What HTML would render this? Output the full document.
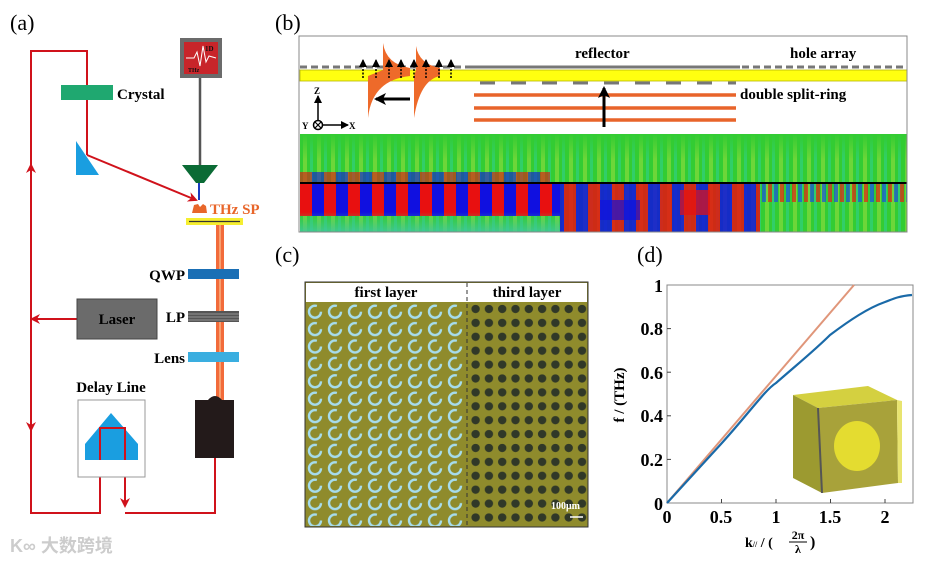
<!DOCTYPE html>
<html><head><meta charset="utf-8"><style>
html,body{margin:0;padding:0;background:#fff;}
svg{display:block;font-family:"Liberation Serif",serif;}
.b{font-weight:bold;}
</style></head><body>
<svg width="945" height="563" viewBox="0 0 945 563" xmlns="http://www.w3.org/2000/svg">
<defs>
<marker id="ar" markerWidth="10" markerHeight="10" refX="8" refY="5" orient="auto" markerUnits="userSpaceOnUse"><path d="M0,0 L10,5 L0,10 L3,5 Z" fill="#d0121b"/></marker>
<marker id="ak" markerWidth="12" markerHeight="12" refX="10" refY="6" orient="auto" markerUnits="userSpaceOnUse"><path d="M0,0 L12,6 L0,12 L3,6 Z" fill="#000"/></marker>
<marker id="ak2" markerWidth="8" markerHeight="8" refX="7" refY="4" orient="auto" markerUnits="userSpaceOnUse"><path d="M0,0 L8,4 L0,8 Z" fill="#000"/></marker>
<pattern id="rings" x="305" y="303" width="20" height="17.4" patternUnits="userSpaceOnUse">
<circle cx="10" cy="8.7" r="6" fill="none" stroke="#a6dcec" stroke-width="2.4" stroke-dasharray="30 8"/>
</pattern>
<pattern id="dots" x="469" y="302" width="13.3" height="13.9" patternUnits="userSpaceOnUse">
<circle cx="6.6" cy="7" r="4.2" fill="#303828"/>
</pattern>
<pattern id="rb" x="300" y="0" width="24" height="10" patternUnits="userSpaceOnUse">
<rect x="0" y="0" width="12" height="10" fill="#e81010"/><rect x="12" y="0" width="12" height="10" fill="#1010e0"/>
</pattern>
<pattern id="rb2" x="300" y="0" width="12" height="10" patternUnits="userSpaceOnUse">
<rect x="0" y="0" width="4" height="10" fill="#e82010"/><rect x="6" y="0" width="4" height="10" fill="#1850e0"/>
</pattern>
<pattern id="gs" x="300" y="0" width="14" height="10" patternUnits="userSpaceOnUse">
<rect width="14" height="10" fill="#33cc33"/><rect x="3" width="4" height="10" fill="#a8e040" opacity="0.5"/><rect x="10" width="3" height="10" fill="#30d0a0" opacity="0.5"/>
</pattern>
<linearGradient id="fadeD" x1="0" y1="0" x2="0" y2="1"><stop offset="0" stop-color="#40c880" stop-opacity="0"/><stop offset="1" stop-color="#40c8a0" stop-opacity="0.85"/></linearGradient>
<linearGradient id="fadeU" x1="0" y1="0" x2="0" y2="1"><stop offset="0" stop-color="#33cc33" stop-opacity="1"/><stop offset="1" stop-color="#33cc33" stop-opacity="0"/></linearGradient>
</defs>

<text x="10" y="30" font-size="22">(a)</text>
<text x="275" y="30" font-size="22">(b)</text>
<text x="275" y="262" font-size="22">(c)</text>
<text x="637" y="262" font-size="22">(d)</text>

<g stroke="#d0121b" stroke-width="2" fill="none">
<polyline points="87,155 87,51 31,51 31,513 100,513 100,428 125,428 125,505"/>
<line x1="31" y1="180" x2="31" y2="165" marker-end="url(#ar)"/>
<line x1="31" y1="415" x2="31" y2="430" marker-end="url(#ar)"/>
<line x1="100" y1="460" x2="100" y2="446" marker-end="url(#ar)"/>
<line x1="125" y1="490" x2="125" y2="506" marker-end="url(#ar)"/>
<line x1="77" y1="319" x2="32" y2="319" marker-end="url(#ar)"/>
<line x1="87" y1="155" x2="196" y2="200" marker-end="url(#ar)"/>
<polyline points="215,458 215,513 125,513"/>
</g>
<rect x="61" y="85" width="52" height="15" fill="#1fa870"/>
<text x="117" y="99" font-size="15" class="b">Crystal</text>
<polygon points="76,141 76,175 99,175" fill="#1a9ee0"/>
<rect x="180" y="38" width="42" height="40" fill="#6b6b6b"/>
<rect x="184" y="42" width="34" height="32" fill="#c8252a"/>
<polyline points="186,58 194,58 197,52 200,66 203,46 206,62 209,56 216,58" fill="none" stroke="#fff" stroke-width="1"/>
<text x="205" y="51" font-size="7" fill="#111" class="b">1D</text>
<text x="188" y="72" font-size="6" fill="#111" class="b">THz</text>
<line x1="200" y1="78" x2="200" y2="166" stroke="#555" stroke-width="2.5"/>
<polygon points="182,165 218,165 204,183 196,183" fill="#0b6b35"/>
<line x1="199" y1="183" x2="199" y2="200" stroke="#1a3cc0" stroke-width="2"/>
<path d="M192,213 L194,205 L198,204 L200,207 L203,204 L206,206 L207,213 Z" fill="#e8662a"/>
<text x="210" y="214" font-size="15" class="b" fill="#e8662a">THz SP</text>
<rect x="216" y="225" width="8" height="175" fill="#f26b3a"/>
<rect x="219" y="225" width="2" height="175" fill="#f7a070"/>
<rect x="186" y="218" width="57" height="7" fill="#f5ee30"/>
<line x1="189" y1="221.5" x2="240" y2="221.5" stroke="#333" stroke-width="1.2"/>
<rect x="188" y="269" width="51" height="10" fill="#1a6fb5"/>
<text x="185" y="280" font-size="15" class="b" text-anchor="end">QWP</text>
<rect x="188" y="311" width="51" height="11" fill="#555"/>
<g stroke="#aaa" stroke-width="0.8"><line x1="188" y1="314" x2="239" y2="314"/><line x1="188" y1="317" x2="239" y2="317"/><line x1="188" y1="320" x2="239" y2="320"/></g>
<text x="185" y="322" font-size="15" class="b" text-anchor="end">LP</text>
<rect x="188" y="352" width="51" height="10" fill="#3aaee0"/>
<text x="185" y="363" font-size="15" class="b" text-anchor="end">Lens</text>
<rect x="77" y="299" width="80" height="40" fill="#6b6b6b" stroke="#444"/>
<text x="117" y="324" font-size="15" class="b" text-anchor="middle">Laser</text>
<text x="111" y="392" font-size="15" class="b" text-anchor="middle">Delay Line</text>
<rect x="78" y="400" width="67" height="77" fill="#fff" stroke="#999"/>
<polygon points="85,460 85,444 111,413 138,444 138,460" fill="#1a9ee0"/>
<g stroke="#d0121b" stroke-width="2" fill="none"><polyline points="100,460 100,428 125,428 125,460"/></g>
<path d="M195,400 L208,400 Q215,392 222,400 L234,400 L234,458 L195,458 Z" fill="#231a1a"/>
<text x="10" y="552" font-size="18" fill="#ccc" class="b" font-family="Liberation Sans, Noto Sans CJK SC, sans-serif">K∞ 大数跨境</text>

<rect x="299" y="36" width="608" height="196" fill="#fff" stroke="#888"/>
<line x1="300" y1="67" x2="470" y2="67" stroke="#777" stroke-width="3" stroke-dasharray="7 4"/>
<line x1="470" y1="67" x2="740" y2="67" stroke="#777" stroke-width="3"/>
<line x1="742" y1="67" x2="907" y2="67" stroke="#777" stroke-width="3" stroke-dasharray="7 4"/>
<rect x="300" y="70" width="607" height="11" fill="#ffff10" stroke="#b8b800" stroke-width="0.8"/>
<line x1="480" y1="83" x2="736" y2="83" stroke="#777" stroke-width="3" stroke-dasharray="15 16"/>
<g stroke="#e8642a" stroke-width="3.5"><line x1="474" y1="95" x2="736" y2="95"/><line x1="474" y1="108" x2="736" y2="108"/><line x1="474" y1="120" x2="736" y2="120"/></g>
<line x1="604" y1="127" x2="604" y2="88" stroke="#000" stroke-width="3" marker-end="url(#ak)"/>
<text x="575" y="58" font-size="15" class="b">reflector</text>
<text x="790" y="58" font-size="15" class="b">hole array</text>
<text x="740" y="99" font-size="15" class="b">double split-ring</text>
<path d="M383,43 Q386,64 410,68 L410,76 Q372,80 368,118 L368,76 L383,70 Z" fill="#ee6a2a"/>
<path d="M416,46 Q419,64 440,68 L440,76 Q420,80 414,118 L414,76 L416,70 Z" fill="#ee6a2a"/>
<line x1="410" y1="99" x2="376" y2="99" stroke="#000" stroke-width="3" marker-end="url(#ak)"/>
<g stroke="#000" stroke-width="1.5" stroke-dasharray="2 1.5">
<line x1="363" y1="78" x2="363" y2="60" marker-end="url(#ak2)"/><line x1="376" y1="78" x2="376" y2="60" marker-end="url(#ak2)"/><line x1="389" y1="78" x2="389" y2="60" marker-end="url(#ak2)"/><line x1="401" y1="78" x2="401" y2="60" marker-end="url(#ak2)"/><line x1="414" y1="78" x2="414" y2="60" marker-end="url(#ak2)"/><line x1="426" y1="78" x2="426" y2="60" marker-end="url(#ak2)"/><line x1="439" y1="78" x2="439" y2="60" marker-end="url(#ak2)"/><line x1="451" y1="78" x2="451" y2="60" marker-end="url(#ak2)"/>
</g>
<line x1="318" y1="121" x2="318" y2="96" stroke="#000" stroke-width="1.5" marker-end="url(#ak2)"/>
<line x1="323" y1="125" x2="348" y2="125" stroke="#000" stroke-width="1.5" marker-end="url(#ak2)"/>
<circle cx="318" cy="125" r="4.5" fill="#fff" stroke="#000" stroke-width="1.5"/>
<path d="M315,122 L321,128 M321,122 L315,128" stroke="#000" stroke-width="1.2"/>
<text x="314" y="94" font-size="9" class="b">Z</text>
<text x="302" y="129" font-size="9" class="b">Y</text>
<text x="349" y="129" font-size="9" class="b">X</text>

<rect x="300" y="134" width="607" height="49" fill="url(#gs)"/>
<rect x="300" y="134" width="607" height="26" fill="url(#fadeU)"/>
<rect x="300" y="172" width="250" height="11" fill="url(#rb)" opacity="0.6"/>
<rect x="300" y="184" width="607" height="48" fill="url(#gs)"/>
<rect x="300" y="184" width="260" height="32" fill="url(#rb)"/>
<rect x="560" y="184" width="200" height="48" fill="url(#rb)" opacity="0.85"/>
<rect x="600" y="200" width="40" height="20" fill="#1010e0" opacity="0.7"/>
<rect x="680" y="190" width="30" height="25" fill="#e81010" opacity="0.7"/>
<rect x="760" y="184" width="147" height="18" fill="url(#rb2)" opacity="0.7"/>
<rect x="300" y="212" width="260" height="20" fill="url(#fadeD)"/>
<line x1="300" y1="183" x2="907" y2="183" stroke="#000" stroke-width="2"/>
<rect x="299" y="36" width="608" height="196" fill="none" stroke="#888"/>

<rect x="305" y="282" width="283" height="245" fill="#8f8b2c" stroke="#333"/>
<rect x="306" y="283" width="281" height="19" fill="#fff"/>
<rect x="306" y="302" width="161" height="224" fill="url(#rings)"/>
<rect x="467" y="302" width="120" height="224" fill="url(#dots)"/>
<line x1="467" y1="283" x2="467" y2="526" stroke="#333" stroke-dasharray="4 3"/>
<text x="386" y="297" font-size="15" class="b" text-anchor="middle">first layer</text>
<text x="527" y="297" font-size="15" class="b" text-anchor="middle">third layer</text>
<text x="551" y="509" font-size="10" class="b" fill="#fff">100μm</text>
<line x1="570" y1="517" x2="583" y2="517" stroke="#fff" stroke-width="1.5"/>
<rect x="305" y="282" width="283" height="245" fill="none" stroke="#333"/>

<rect x="667" y="285" width="246" height="218" fill="#fff" stroke="#888"/>
<g stroke="#444"><line x1="721.5" y1="503" x2="721.5" y2="499"/><line x1="776" y1="503" x2="776" y2="499"/><line x1="830.5" y1="503" x2="830.5" y2="499"/><line x1="885" y1="503" x2="885" y2="499"/>
<line x1="667" y1="459.4" x2="671" y2="459.4"/><line x1="667" y1="415.8" x2="671" y2="415.8"/><line x1="667" y1="372.2" x2="671" y2="372.2"/><line x1="667" y1="328.6" x2="671" y2="328.6"/></g>
<g font-size="18" class="b" text-anchor="end">
<text x="663" y="510">0</text><text x="663" y="466">0.2</text><text x="663" y="422">0.4</text><text x="663" y="379">0.6</text><text x="663" y="335">0.8</text><text x="663" y="292">1</text></g>
<g font-size="18" class="b" text-anchor="middle">
<text x="667" y="523">0</text><text x="721" y="523">0.5</text><text x="776" y="523">1</text><text x="830" y="523">1.5</text><text x="885" y="523">2</text></g>
<text transform="translate(624,395) rotate(-90)" font-size="15" class="b" text-anchor="middle">f / (THz)</text>
<text x="745" y="547" font-size="14" class="b">k<tspan font-size="8">//</tspan> / (</text>
<text x="798" y="539" font-size="12" class="b" text-anchor="middle">2π</text>
<line x1="789" y1="542" x2="807" y2="542" stroke="#000"/>
<text x="798" y="553" font-size="12" class="b" text-anchor="middle">λ</text>
<text x="810" y="547" font-size="16" class="b">)</text>
<polygon points="793,395 868,386 897,400 818,408" fill="#d4d040"/>
<polygon points="793,395 818,408 822,493 793,478" fill="#9c9a30"/>
<polygon points="818,408 897,400 898,483 822,493" fill="#a8a23a"/>
<polygon points="897,400 902,401 902,483 898,483" fill="#e8e470"/>
<line x1="818" y1="408" x2="822" y2="493" stroke="#555" stroke-width="2"/>
<ellipse cx="857" cy="446" rx="23" ry="25" fill="#e4dc30"/>
<line x1="667" y1="503" x2="854" y2="285" stroke="#e0967a" stroke-width="2"/>
<path d="M667,503 L721,444 C750,412 765,390 776,383 C800,362 815,350 830,335 C850,320 868,308 885,302 C895,298 900,296 912,295" fill="none" stroke="#1a6aa8" stroke-width="2.2"/>
</svg>
</body></html>
